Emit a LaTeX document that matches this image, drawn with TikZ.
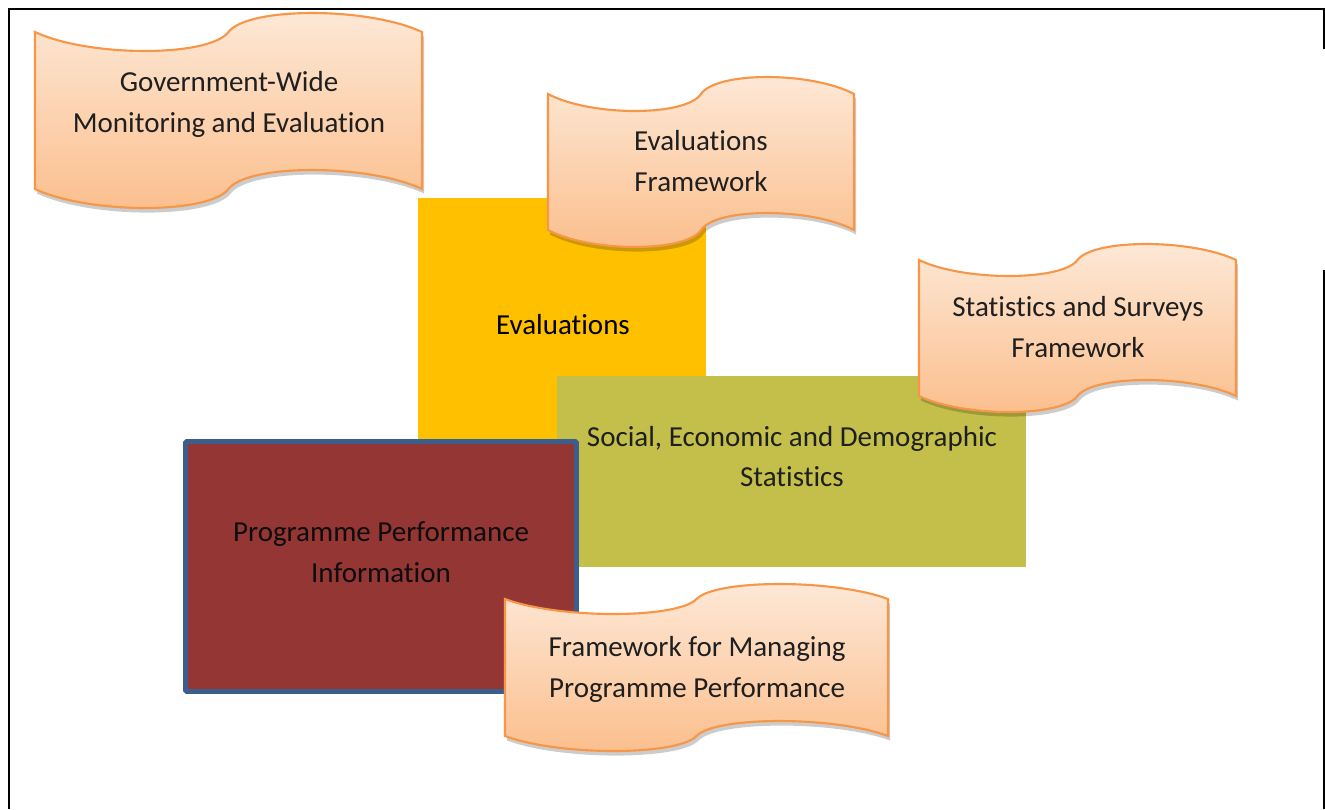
\documentclass[tikz,border=0pt]{standalone}
\usepackage{fontspec}
\setmainfont{Carlito}[Ligatures={NoCommon}]
\usetikzlibrary{shadows}
\definecolor{evalyellow}{HTML}{FFC000}
\definecolor{statgreen}{RGB}{195,191,74}
\definecolor{ppired}{HTML}{943634}
\definecolor{ppiblue}{HTML}{3B5E8C}
\definecolor{waveline}{HTML}{F79646}
\definecolor{wavetop}{RGB}{253,233,216}
\definecolor{wavebot}{RGB}{251,190,140}
\tikzset{
  wavestyle/.style={draw=waveline, line width=1.2pt, top color=wavetop, bottom color=wavebot,
    drop shadow={opacity=0.2, shadow xshift=1.2pt, shadow yshift=-2.6pt, fill=black}},
  lbl/.style={align=center, inner sep=0pt, text=black!88, font=\fontsize{16.5}{23.3}\selectfont},
  frameline/.style={draw=black, line width=1.2pt},
}
% #1 left, #2 top, #3 right, #4 bottom, #5 lobe depth (image px, y down)
\newcommand\mywave[5]{%
  \path[wavestyle]
    (#1,#2) .. controls ({#1+0.14*(#3-#1)},{#2+1.333*#5}) and ({(#1+#3)/2-0.05*(#3-#1)},{#2+1.333*#5}) .. ({(#1+#3)/2},#2)
            .. controls ({(#1+#3)/2+0.05*(#3-#1)},{#2-1.333*#5}) and ({#3-0.14*(#3-#1)},{#2-1.333*#5}) .. (#3,#2)
    -- (#3,#4)
            .. controls ({#3-0.14*(#3-#1)},{#4-1.333*#5}) and ({(#1+#3)/2+0.05*(#3-#1)},{#4-1.333*#5}) .. ({(#1+#3)/2},#4)
            .. controls ({(#1+#3)/2-0.05*(#3-#1)},{#4+1.333*#5}) and ({#1+0.14*(#3-#1)},{#4+1.333*#5}) .. (#1,#4)
    -- cycle;}
\begin{document}
\begin{tikzpicture}[x=0.02cm, y=-0.02cm]
\useasboundingbox (0,0) rectangle (1325,809);
\fill[white] (0,0) rectangle (1325,809);
% frame
\draw[frameline] (9,809) -- (9,9) -- (1324,9) -- (1324,49);
\draw[frameline] (1324,270) -- (1324,809);
% Government-wide M&E
\mywave{35}{32}{422}{189}{19}
\node[lbl] (gov) at (229,104.5) {Government-Wide\\Monitoring and Evaluation};
% Evaluations
\fill[evalyellow] (418,198) rectangle (706,445);
\node[lbl, text=black] (ev) at (563,325) {Evaluations};
% Evaluations framework
\mywave{548}{94}{854}{230}{17}
\node[lbl] (evf) at (701,161.5) {Evaluations\\Framework};
% Social, economic and demographic statistics
\fill[statgreen] (557,376) rectangle (1026,567);
\node[lbl] (sed) at (792,456.5) {Social, Economic and Demographic\\Statistics};
% Statistics and surveys framework
\mywave{919}{260}{1236}{396}{16}
\node[lbl] (ssf) at (1078,327.5) {Statistics and Surveys\\Framework};
% Programme performance information
\draw[fill=ppired, draw=ppiblue, line width=2.8pt, rounded corners=0.8pt] (185.5,441.5) rectangle (576.5,691.5);
\node[lbl, text=black!95] (ppi) at (381,552.5) {Programme Performance\\Information};
% Framework for managing programme performance
\mywave{505}{599}{888}{736}{15}
\node[lbl] (fmp) at (697,669.5) {Framework for Managing\\Programme Performance};
\end{tikzpicture}
\end{document}
